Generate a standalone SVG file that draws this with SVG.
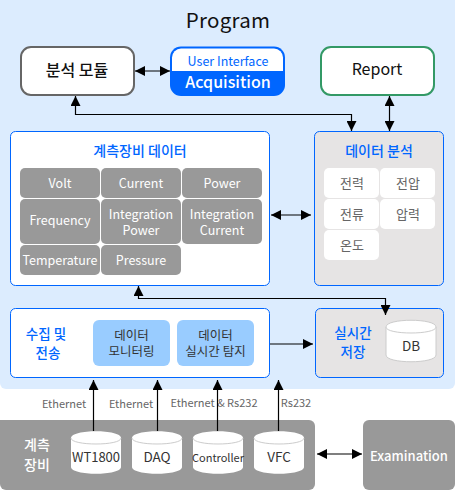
<svg xmlns="http://www.w3.org/2000/svg" width="455" height="490" viewBox="0 0 455 490">
<style>
text{font-family:"Noto Sans CJK KR","Noto Sans",sans-serif;text-anchor:middle}
.blue{fill:#0066ff;font-weight:500}
.cell{fill:#999999}
.ct{fill:#ffffff;font-size:12.5px}
.wc{fill:#ffffff}
.wt{fill:#666666;font-size:13px}
.box{fill:#ffffff;stroke:#0066ff;stroke-width:1}
.gbox{fill:#e6e4e4;stroke:#0066ff;stroke-width:1}
.sub{fill:#99ccff}
.st{fill:#333333;font-size:12.5px}
.lbl{fill:#666666;font-size:11px}
.cyl{fill:#ffffff;stroke:#cccccc;stroke-width:1}
.dt{fill:#333333;font-size:13.5px}
.conn{fill:none;stroke:#000000;stroke-width:1.2}
</style>
<defs>
<marker id="a" markerUnits="userSpaceOnUse" markerWidth="10" markerHeight="10" refX="10" refY="5" orient="auto-start-reverse"><path d="M0,0L10,5L0,10Z" fill="#000000"/></marker>
</defs>
<path id="program-bg" d="M0,0H455V383a6,6 0 0 1 -6,6H6a6,6 0 0 1 -6,-6Z" fill="#dcecfe"/>
<text x="228" y="28" font-size="20.500" fill="#111111" style="letter-spacing:.3px">Program</text>

<g id="analysis-module">
<rect x="21" y="47" width="113" height="48" rx="10" fill="#ffffff" stroke="#666666" stroke-width="2"/>
<text x="77" y="76" font-size="16" font-weight="500" fill="#111111">분석 모듈</text>
</g>
<g id="acquisition">
<path d="M181,46.500H274a11,11 0 0 1 11,11V85a11,11 0 0 1 -11,11H181a11,11 0 0 1 -11,-11V57.500a11,11 0 0 1 11,-11Z" fill="#0066ff"/>
<path d="M181,48.500H274a9,9 0 0 1 9,9V71H172V57.500a9,9 0 0 1 9,-9Z" fill="#ffffff"/>
<text x="228" y="66" font-size="12.500" fill="#0066ff">User Interface</text>
<text x="228" y="88" font-size="16" font-weight="500" fill="#ffffff">Acquisition</text>
</g>
<g id="report">
<rect x="321" y="47" width="113" height="48" rx="10" fill="#ffffff" stroke="#339966" stroke-width="2"/>
<text x="377" y="75" font-size="16" fill="#111111">Report</text>
</g>

<g id="device-data">
<rect class="box" x="10.500" y="131.500" width="259" height="154" rx="5"/>
<text class="blue" x="140" y="156" font-size="14">계측장비 데이터</text>
<rect class="cell" x="20" y="168" width="80" height="30" rx="5"/><text class="ct" x="60" y="188">Volt</text>
<rect class="cell" x="101" y="168" width="80" height="30" rx="5"/><text class="ct" x="141" y="188">Current</text>
<rect class="cell" x="182" y="168" width="80" height="30" rx="5"/><text class="ct" x="222" y="188">Power</text>
<rect class="cell" x="20" y="199" width="80" height="45" rx="5"/><text class="ct" x="60" y="225">Frequency</text>
<rect class="cell" x="101" y="199" width="80" height="45" rx="5"/><text class="ct" x="141" y="219">Integration</text><text class="ct" x="141" y="235">Power</text>
<rect class="cell" x="182" y="199" width="80" height="45" rx="5"/><text class="ct" x="222" y="219">Integration</text><text class="ct" x="222" y="235">Current</text>
<rect class="cell" x="20" y="245" width="80" height="30" rx="5"/><text class="ct" x="60" y="265">Temperature</text>
<rect class="cell" x="101" y="245" width="80" height="30" rx="5"/><text class="ct" x="141" y="265">Pressure</text>
</g>

<g id="data-analysis">
<rect class="gbox" x="314.500" y="131.500" width="129" height="154" rx="5"/>
<text class="blue" x="379" y="156" font-size="14">데이터 분석</text>
<rect class="wc" x="324" y="168" width="55" height="30" rx="5"/><text class="wt" x="352" y="188">전력</text>
<rect class="wc" x="380" y="168" width="55" height="30" rx="5"/><text class="wt" x="408" y="188">전압</text>
<rect class="wc" x="324" y="199" width="55" height="30" rx="5"/><text class="wt" x="352" y="219">전류</text>
<rect class="wc" x="380" y="199" width="55" height="30" rx="5"/><text class="wt" x="408" y="219">압력</text>
<rect class="wc" x="324" y="230" width="55" height="30" rx="5"/><text class="wt" x="352" y="250">온도</text>
</g>

<g id="collect">
<rect class="box" x="10.500" y="308.500" width="259" height="69" rx="5"/>
<text class="blue" x="46" y="339" font-size="13.500">수집 및</text>
<text class="blue" x="48" y="358" font-size="13.500">전송</text>
<rect class="sub" x="93" y="320" width="77" height="46" rx="6"/>
<text class="st" x="131.500" y="340">데이터</text><text class="st" x="131.500" y="356">모니터링</text>
<rect class="sub" x="177" y="320" width="77" height="46" rx="6"/>
<text class="st" x="215.500" y="340">데이터</text><text class="st" x="215.500" y="356">실시간 탐지</text>
</g>

<g id="realtime-store">
<rect class="gbox" x="315.500" y="308.500" width="128" height="69" rx="5"/>
<text class="blue" x="353" y="338" font-size="13.500">실시간</text>
<text class="blue" x="353" y="357" font-size="13.500">저장</text>
<g id="db">
<path class="cyl" d="M386,327C386,318 436,318 436,327V355C436,364 386,364 386,355Z"/>
<path class="cyl" d="M386,327C386,335 436,335 436,327" fill="none"/>
<text class="dt" x="411" y="351">DB</text>
</g>
</g>

<g id="devices">
<path d="M0,420H309a6,6 0 0 1 6,6V484a6,6 0 0 1 -6,6H6a6,6 0 0 1 -6,-6Z" fill="#999999"/>
<text x="37" y="450" font-size="14" font-weight="500" fill="#ffffff">계측</text>
<text x="37" y="470" font-size="14" font-weight="500" fill="#ffffff">장비</text>
</g>
<g id="wt1800">
<path d="M71,438C71,429 121,429 121,438V467C121,476 71,476 71,467Z" fill="#ffffff"/><path class="cyl" d="M71,438C71,446 121,446 121,438" fill="none"/>
<text class="dt" x="96" y="462" style="font-size:13px">WT1800</text>
</g>
<g id="daq">
<path d="M132,438C132,429 182,429 182,438V467C182,476 132,476 132,467Z" fill="#ffffff"/><path class="cyl" d="M132,438C132,446 182,446 182,438" fill="none"/>
<text class="dt" x="157" y="462">DAQ</text>
</g>
<g id="controller">
<path d="M193,438C193,429 243,429 243,438V467C243,476 193,476 193,467Z" fill="#ffffff"/><path class="cyl" d="M193,438C193,446 243,446 243,438" fill="none"/>
<text class="dt" x="218" y="462" style="font-size:11px">Controller</text>
</g>
<g id="vfc">
<path d="M254,438C254,429 304,429 304,438V467C304,476 254,476 254,467Z" fill="#ffffff"/><path class="cyl" d="M254,438C254,446 304,446 304,438" fill="none"/>
<text class="dt" x="279" y="462">VFC</text>
</g>
<g id="examination">
<rect x="363" y="420" width="92" height="70" rx="6" fill="#999999"/>
<text x="409" y="461" font-size="13" font-weight="500" fill="#ffffff">Examination</text>
</g>

<g id="connector-labels">
<text class="lbl" x="64" y="408">Ethernet</text>
<text class="lbl" x="131" y="408">Ethernet</text>
<text class="lbl" x="214" y="407">Ethernet &amp; Rs232</text>
<text class="lbl" x="296" y="407">Rs232</text>
</g>

<g id="connectors">
<path class="conn" d="M135,71H170" marker-start="url(#a)" marker-end="url(#a)"/>
<path class="conn" d="M75.500,96V114.500H351.500V131" marker-start="url(#a)" marker-end="url(#a)"/>
<path class="conn" d="M389.500,96V131" marker-start="url(#a)" marker-end="url(#a)"/>
<path class="conn" d="M271,215H311" marker-start="url(#a)" marker-end="url(#a)"/>
<path class="conn" d="M138.500,286V298.500H385.500V315" marker-start="url(#a)" marker-end="url(#a)"/>
<path class="conn" d="M270,344H313" marker-end="url(#a)"/>
<path class="conn" d="M93.500,431V380" marker-end="url(#a)"/>
<path class="conn" d="M157.500,431V380" marker-end="url(#a)"/>
<path class="conn" d="M217.500,431V380" marker-end="url(#a)"/>
<path class="conn" d="M278.500,431V380" marker-end="url(#a)"/>
<path class="conn" d="M317,454H362" marker-start="url(#a)" marker-end="url(#a)"/>
</g>
</svg>
